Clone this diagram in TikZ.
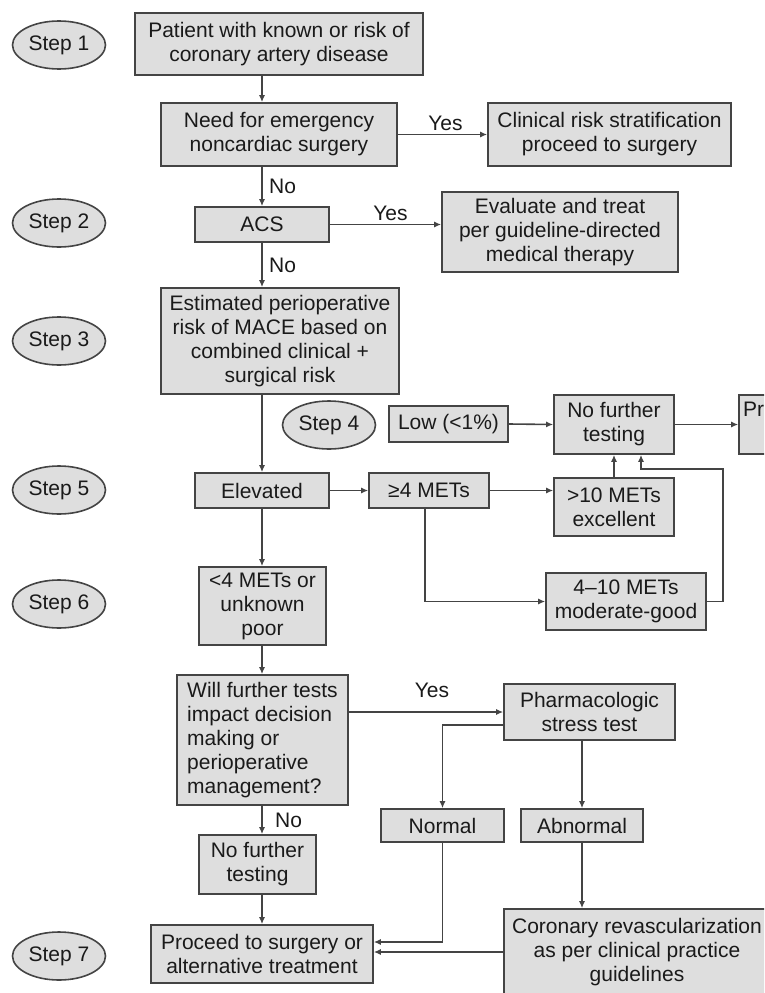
\documentclass[tikz,border=0pt]{standalone}
\usepackage{fontspec}
\setmainfont{Liberation Sans}
\usetikzlibrary{shapes.geometric,arrows.meta}

\definecolor{boxfill}{HTML}{DEDEDE}
\definecolor{rand}{HTML}{444444}
\definecolor{schrift}{HTML}{1A1A1A}

\tikzset{
	flowbox/.style={draw=rand, fill=boxfill, line width=1.6pt, inner sep=0pt, align=center, text=schrift, font=\fontsize{21}{24}\selectfont},
	stepoval/.style={ellipse, draw=rand, fill=boxfill, line width=1.6pt, inner sep=0pt, minimum width=93pt, minimum height=48pt, text=schrift, font=\fontsize{21}{24}\selectfont},
	conn/.style={draw=rand, line width=1.6pt, -{Latex[length=7pt,width=6pt]}},
	yesno/.style={text=schrift, font=\fontsize{21}{24}\selectfont}
}

\begin{document}
\begin{tikzpicture}[x=1pt,y=-1pt]
\useasboundingbox (0,0) rectangle (764,993);
\clip (0,0) rectangle (764,993);
\fill[white] (0,0) rectangle (764,993);

%Steps
\foreach \n/\x/\y in {1/59/45, 2/59/223, 3/59/341, 4/329/425, 5/59/490, 6/59/604, 7/59/956}
{
	\node[stepoval] (step\n) at (\x,\y) {Step \n};
}

%Boxes
\node[flowbox, minimum width=288, minimum height=62] (pat) at (279,44) {Patient with known or risk of\\coronary artery disease};
\node[flowbox, minimum width=236, minimum height=63] (need) at (279,134.5) {Need for emergency\\noncardiac surgery};
\node[flowbox, minimum width=243, minimum height=63] (strat) at (609.5,134.5) {Clinical risk stratification\\proceed to surgery};
\node[flowbox, minimum width=134, minimum height=35] (acs) at (262,224.5) {ACS};
\node[flowbox, minimum width=236, minimum height=80] (eval) at (560,232) {Evaluate and treat\\per guideline-directed\\medical therapy};
\node[flowbox, minimum width=238, minimum height=106] (est) at (280,341) {Estimated perioperative\\risk of MACE based on\\combined clinical +\\surgical risk};
\node[flowbox, minimum width=119, minimum height=36] (low) at (448.5,424) {Low (<1\%)};
\node[flowbox, minimum width=120, minimum height=59] (nft) at (614,424.5) {No further\\testing};
\node[flowbox, align=left, text width=112, minimum width=120, minimum height=59] (pr) at (799,424.5) {Pr\\\strut};
\node[flowbox, minimum width=134, minimum height=35] (elev) at (262,490.5) {Elevated};
\node[flowbox, minimum width=120, minimum height=35] (ge4) at (429,490.5) {≥4 METs};
\node[flowbox, minimum width=120, minimum height=58] (gt10) at (614,507) {>10 METs\\excellent};
\node[flowbox, minimum width=160, minimum height=57] (mid) at (626,601.5) {4–10 METs\\moderate-good};
\node[flowbox, minimum width=127, minimum height=78] (lt4) at (262.5,606) {<4 METs or\\unknown\\poor};
\node[flowbox, align=left, minimum width=171, minimum height=130] (will) at (262.5,740) {Will further tests\\impact decision\\making or\\perioperative\\management?};
\node[flowbox, minimum width=171, minimum height=56] (pharm) at (589.5,712) {Pharmacologic\\stress test};
\node[flowbox, minimum width=123, minimum height=33] (normal) at (442.5,825.5) {Normal};
\node[flowbox, minimum width=122, minimum height=33] (abn) at (582,825.5) {Abnormal};
\node[flowbox, minimum width=117, minimum height=59] (nft2) at (257.5,864.5) {No further\\testing};
\node[flowbox, minimum width=222, minimum height=58] (proc) at (262,954) {Proceed to surgery or\\alternative treatment};
\node[flowbox, minimum width=266, minimum height=86] (cor) at (637,952) {Coronary revascularization\\as per clinical practice\\guidelines};

%Arrows
\draw[conn] (pat.south -| acs) -- (need.north -| acs);
\draw[conn] (need.east) -- node[yesno, above, xshift=3pt] {Yes} (strat.west);
\draw[conn] (need.south -| acs) -- node[yesno, right, xshift=3pt] {No} (acs.north);
\draw[conn] (acs.east) -- node[yesno, above, xshift=5pt] {Yes} (acs.east -| eval.west);
\draw[conn] (acs.south) -- node[yesno, right, xshift=3pt] {No} (est.north -| acs);
\draw[conn] (est.south -| elev) -- (elev.north);
\draw[conn] (low.east) -- (nft.west);
\draw[conn] (nft.east) -- (pr.west);
\draw[conn] (elev.east) -- (ge4.west);
\draw[conn] (ge4.east) -- (ge4.east -| gt10.west);
\draw[conn] (gt10.north) -- (nft.south);
\draw[conn] ([xshift=-4pt]ge4.south) |- (mid.west);
\draw[conn] (mid.east) -- ++(16,0) |- ([xshift=27pt,yshift=-14pt]nft.south) -- ([xshift=27pt]nft.south);
\draw[conn] (elev.south) -- (lt4.north -| elev);
\draw[conn] (lt4.south -| elev) -- (will.north -| elev);
\draw[conn] (pharm.west -| will.east) -- node[yesno, above=10pt, xshift=6pt] {Yes} (pharm.west);
\draw[conn] ([yshift=-13pt]pharm.west) -| (normal.north);
\draw[conn] (pharm.south -| abn) -- (abn.north);
\draw[conn] (abn.south) -- (abn.south |- cor.north);
\draw[conn] (will.south -| elev) -- node[yesno, right, xshift=9pt] {No} (nft2.north -| elev);
\draw[conn] (nft2.south -| elev) -- (proc.north -| elev);
\draw[conn] (normal.south) |- ([yshift=12pt]proc.east);
\draw[conn] (cor.west) -- (cor.west -| proc.east);

\end{tikzpicture}
\end{document}
